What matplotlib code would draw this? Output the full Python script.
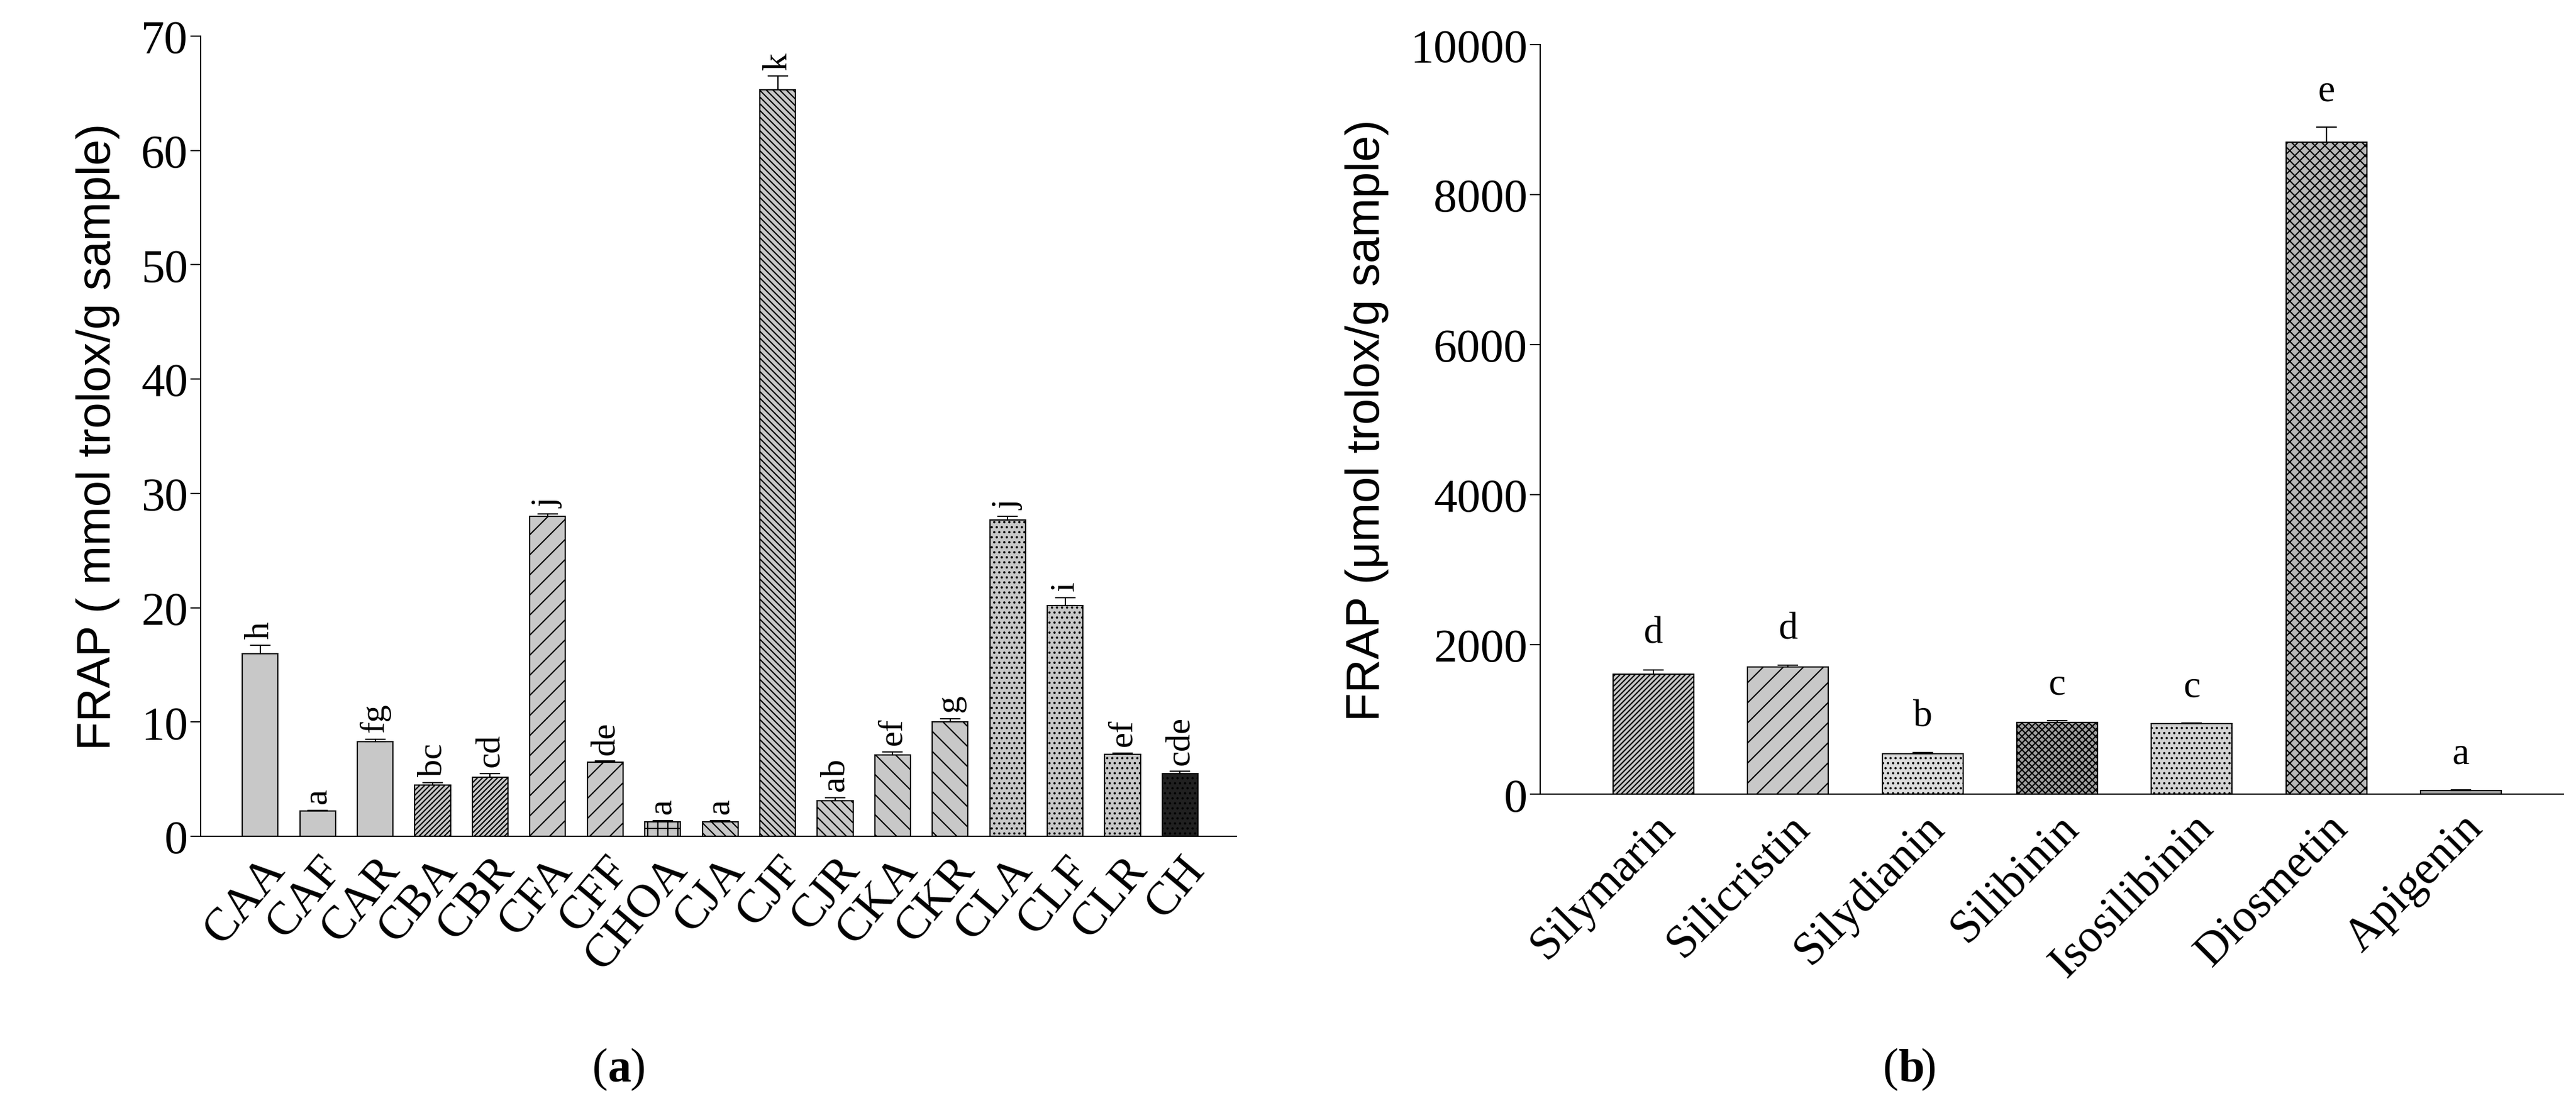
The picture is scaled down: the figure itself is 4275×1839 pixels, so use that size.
import matplotlib
matplotlib.use("Agg")
import matplotlib.pyplot as plt
import numpy as np

plt.rcParams['hatch.linewidth'] = 1.5

cats_a = ["CAA","CAF","CAR","CBA","CBR","CFA","CFF","CHOA","CJA","CJF","CJR","CKA","CKR","CLA","CLF","CLR","CH"]
vals_a = [16.0,2.2,8.3,4.5,5.2,28.0,6.5,1.3,1.3,65.3,3.1,7.1,10.0,27.7,20.2,7.2,5.5]
err_a = [0.7,0.1,0.2,0.2,0.3,0.2,0.1,0.1,0.1,1.2,0.3,0.3,0.3,0.3,0.7,0.1,0.2]
let_a = ["h","a","fg","bc","cd","j","de","a","a","k","ab","ef","g","j","i","ef","cde"]
hatch_a = [None,None,None,"////","////","/","/","+","\\\\","\\\\\\","\\\\","\\","\\","..","..","..",".."]
col_a = ["#c8c8c8"]*16 + ["#202020"]

cats_b = ["Silymarin","Silicristin","Silydianin","Silibinin","Isosilibinin","Diosmetin","Apigenin"]
vals_b = [1600,1700,540,960,940,8700,50]
err_b = [60,20,15,20,10,200,5]
let_b = ["d","d","b","c","c","e","a"]
hatch_b = ["////","/","..","xxx","..","xx",None]
col_b = ["#c8c8c8","#c8c8c8","#dcdcdc","#a0a0a0","#d4d4d4","#b8b8b8","#a0a0a0"]

serif = "Liberation Serif"
FS = 56
fig = plt.figure(figsize=(42.75, 18.4), dpi=100)

def style(ax):
    for s in ["top", "right"]:
        ax.spines[s].set_visible(False)
    ax.spines["left"].set_linewidth(1.5)
    ax.spines["bottom"].set_linewidth(1.5)
    ax.tick_params(axis="y", direction="out", length=12, width=1.5, labelsize=FS)
    ax.tick_params(axis="x", length=0, labelsize=FS, pad=14)
    for t in ax.get_yticklabels() + ax.get_xticklabels():
        t.set_fontfamily(serif)

# panel a
ax = fig.add_axes([0.078, 0.245, 0.402, 0.722])
x = np.arange(len(cats_a))
for i in x:
    ax.bar(i, vals_a[i], 0.62, color=col_a[i], edgecolor="black", linewidth=1.5, hatch=hatch_a[i])
    ax.errorbar(i, vals_a[i], yerr=[[0], [err_a[i]]], color="black", capsize=12, elinewidth=1.5, capthick=1.5)
    ax.text(i, vals_a[i] + err_a[i] + 0.6, let_a[i], rotation=90, ha="center", va="bottom",
            fontsize=42, fontfamily=serif)
ax.set_xlim(-1.03, 16.98)
ax.set_ylim(0, 70)
ax.set_yticks(range(0, 71, 10))
ax.set_xticks(x)
ax.set_xticklabels(cats_a, rotation=50, ha="right", rotation_mode="anchor")
ax.set_ylabel("FRAP ( mmol trolox/g sample)", fontsize=FS, fontfamily="Liberation Sans", labelpad=25)
style(ax)
fig.text(0.236, 0.035, "(", fontsize=FS, fontfamily=serif, ha="right", va="center")
fig.text(0.236, 0.035, "a", fontsize=FS, fontfamily=serif, fontweight="bold", ha="left", va="center")
fig.text(0.2445, 0.035, ")", fontsize=FS, fontfamily=serif, ha="left", va="center")

# panel b
ax = fig.add_axes([0.598, 0.283, 0.397, 0.676])
x = np.arange(len(cats_b))
for i in x:
    ax.bar(i, vals_b[i], 0.6, color=col_b[i], edgecolor="black", linewidth=1.5, hatch=hatch_b[i])
    ax.errorbar(i, vals_b[i], yerr=[[0], [err_b[i]]], color="black", capsize=12, elinewidth=1.5, capthick=1.5)
    ax.text(i, vals_b[i] + err_b[i] + 250, let_b[i], ha="center", va="bottom",
            fontsize=46, fontfamily=serif)
ax.set_xlim(-0.84, 6.76)
ax.set_ylim(0, 10000)
ax.set_yticks(range(0, 10001, 2000))
ax.set_xticks(x)
ax.set_xticklabels(cats_b, rotation=45, ha="right", rotation_mode="anchor")
ax.set_ylabel("FRAP (\u03bcmol trolox/g sample)", fontsize=FS, fontfamily="Liberation Sans", labelpad=25)
style(ax)
fig.text(0.737, 0.035, "(", fontsize=FS, fontfamily=serif, ha="right", va="center")
fig.text(0.737, 0.035, "b", fontsize=FS, fontfamily=serif, fontweight="bold", ha="left", va="center")
fig.text(0.7455, 0.035, ")", fontsize=FS, fontfamily=serif, ha="left", va="center")

fig.savefig("out.png", dpi=100)
